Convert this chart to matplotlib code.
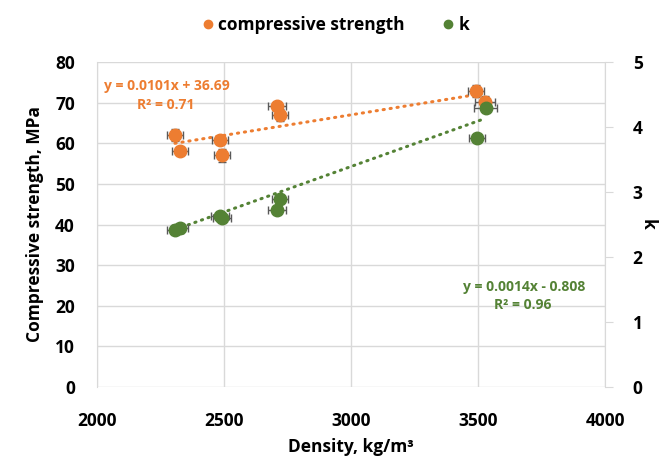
import matplotlib.pyplot as plt
import numpy as np

# data
density = [2307, 2327, 2484, 2492, 2709, 2720, 3492, 3528]
strength = [62.0, 58.0, 60.7, 57.0, 69.1, 66.9, 72.8, 70.1]
strength_err = [1.5, 1.0, 1.0, 1.5, 1.0, 1.5, 1.5, 1.5]
density_err = [30, 30, 30, 30, 35, 30, 30, 40]

density_k = [2307, 2327, 2484, 2492, 2709, 2720, 3496, 3531]
k_vals = [2.42, 2.45, 2.63, 2.60, 2.72, 2.89, 3.83, 4.29]
k_err = [0.03, 0.03, 0.05, 0.05, 0.03, 0.03, 0.04, 0.05]
density_k_err = [30, 30, 35, 35, 35, 30, 30, 45]

cs_fit = (0.0101, 36.69)
k_fit = (0.0014, -0.808)

orange = '#ED7D31'
green = '#548235'
errc = '#595959'

plt.rcParams['font.family'] = ['Open Sans', 'DejaVu Sans']
plt.rcParams['font.weight'] = 'bold'

fig = plt.figure(figsize=(6.59, 4.58), dpi=100)
ax = fig.add_axes([97/659, 1-387/458, 508/659, 325/458])
ax2 = ax.twinx()

ax.errorbar(density, strength, xerr=density_err, yerr=strength_err, fmt='o',
            color=orange, ms=9, ecolor=errc, elinewidth=1, capsize=3, capthick=1, zorder=3)
xs = np.array([min(density), max(density)])
ax.plot(xs, cs_fit[0]*xs + cs_fit[1], color=orange, lw=2.2,
        linestyle=(0, (0.4, 1.9)), dash_capstyle='round', zorder=2)

ax2.errorbar(density_k, k_vals, xerr=density_k_err, yerr=k_err, fmt='o',
             color=green, ms=9, ecolor=errc, elinewidth=1, capsize=3, capthick=1, zorder=3)
xs2 = np.array([min(density_k), max(density_k)])
ax2.plot(xs2, k_fit[0]*xs2 + k_fit[1], color=green, lw=2.2,
         linestyle=(0, (0.4, 1.9)), dash_capstyle='round', zorder=2)

ax.set_xlim(2000, 4000)
ax.set_ylim(0, 80)
ax2.set_ylim(0, 5)
ax.set_xticks(np.arange(2000, 4001, 500))
ax.set_yticks(np.arange(0, 81, 10))
ax2.set_yticks(np.arange(0, 6, 1))

ax.grid(True, color='#D9D9D9', lw=1)
ax.set_axisbelow(True)
for s in ['top', 'right', 'bottom']:
    ax.spines[s].set_visible(False)
ax.spines['left'].set_color('#D9D9D9')
for s in ['top', 'left', 'bottom']:
    ax2.spines[s].set_visible(False)
ax2.spines['right'].set_color('#D9D9D9')

ax.tick_params(axis='x', length=0, pad=18, labelsize=12.5)
ax.tick_params(axis='y', length=0, pad=16, labelsize=12.5)
ax2.tick_params(axis='y', length=6, color='#D9D9D9', pad=14, labelsize=12.5)

ax.set_xlabel('Density, kg/m³', fontsize=12.5, fontweight='bold', labelpad=6)
ax.set_ylabel('Compressive strength, MPa', fontsize=12.5, fontweight='bold', labelpad=8)
ax2.set_ylabel('k', fontsize=12.5, fontweight='bold', rotation=270, labelpad=10)

fig.text(167/659, 1-86/458, 'y = 0.0101x + 36.69', color=orange, fontsize=10,
         fontweight='bold', ha='center', va='center')
fig.text(166/659, 1-105/458, 'R² = 0.71', color=orange, fontsize=10,
         fontweight='bold', ha='center', va='center')
fig.text(524/659, 1-287/458, 'y = 0.0014x - 0.808', color=green, fontsize=10,
         fontweight='bold', ha='center', va='center')
fig.text(523/659, 1-305/458, 'R² = 0.96', color=green, fontsize=10,
         fontweight='bold', ha='center', va='center')

h1 = plt.Line2D([], [], marker='o', ls='', color=orange, ms=6)
h2 = plt.Line2D([], [], marker='o', ls='', color=green, ms=6)
fig.legend([h1, h2], ['compressive strength', 'k'], loc='center', ncol=2,
           bbox_to_anchor=(334/659, 1-25/458), frameon=False, fontsize=12.5,
           handletextpad=0.1, columnspacing=2, handlelength=1)

fig.savefig('out.png', dpi=100)
